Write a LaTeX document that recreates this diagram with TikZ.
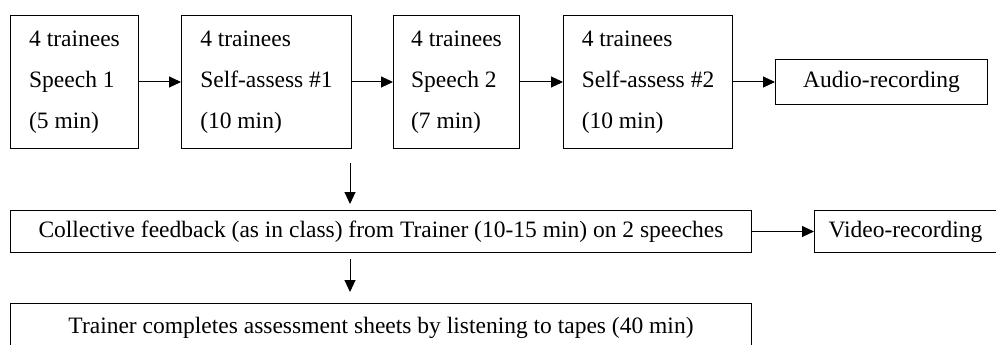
\documentclass[tikz,border=0pt]{standalone}
\usepackage{fontspec}
\setmainfont{Liberation Serif}
\usetikzlibrary{shapes, arrows.meta, positioning}
\tikzstyle{block} = [draw, fill=white, rectangle, align=left, minimum height=133pt, inner sep=0pt]
\tikzstyle{wide} = [draw, fill=white, rectangle, minimum height=42pt, inner sep=0pt]

\begin{document}
\begin{tikzpicture}[auto,node distance=42pt,>={Triangle[length=12pt,width=11pt]},font=\fontsize{23.5}{41}\selectfont,line width=1pt]
  \useasboundingbox (0,0) rectangle (996pt,-345pt);
  \node [block, minimum width=128pt, anchor=north west] (speech1) at (10pt,-15pt) {4 trainees\\Speech 1\\(5 min)};
  \node [block, minimum width=170pt, right=42pt of speech1] (assess1) {4 trainees\\Self-assess \#1\\(10 min)};
  \node [block, minimum width=126pt, right=41pt of assess1] (speech2) {4 trainees\\Speech 2\\(7 min)};
  \node [block, minimum width=169pt, right=43pt of speech2] (assess2) {4 trainees\\Self-assess \#2\\(10 min)};
  \node [wide, minimum width=212pt, minimum height=44pt, right=42pt of assess2] (audio) {Audio-recording};
  \node [wide, minimum width=741pt, below=61pt of speech1.south west, anchor=north west] (feedback) {Collective feedback (as in class) from Trainer (10-15 min) on 2 speeches};
  \node [wide, minimum width=182pt, right=62pt of feedback] (video) {Video-recording};
  \node [wide, minimum width=741pt, minimum height=48pt, below=50pt of feedback.south west, anchor=north west] (sheets) {Trainer completes assessment sheets by listening to tapes (40 min)};
  \coordinate [below=14pt of assess1.south east, xshift=-2pt] (drop1);
  \coordinate [below=6pt of feedback.south -| drop1] (drop2);
  \draw [->] (speech1) -- (assess1);
  \draw [->] (assess1) -- (speech2);
  \draw [->] (speech2) -- (assess2);
  \draw [->] (assess2) -- (audio);
  \draw [->] (feedback) -- (video);
  \draw [->, shorten >=6pt] (drop1) -- (drop1 |- feedback.north);
  \draw [->, shorten >=11pt] (drop2) -- (drop2 |- sheets.north);
\end{tikzpicture}
\end{document}
